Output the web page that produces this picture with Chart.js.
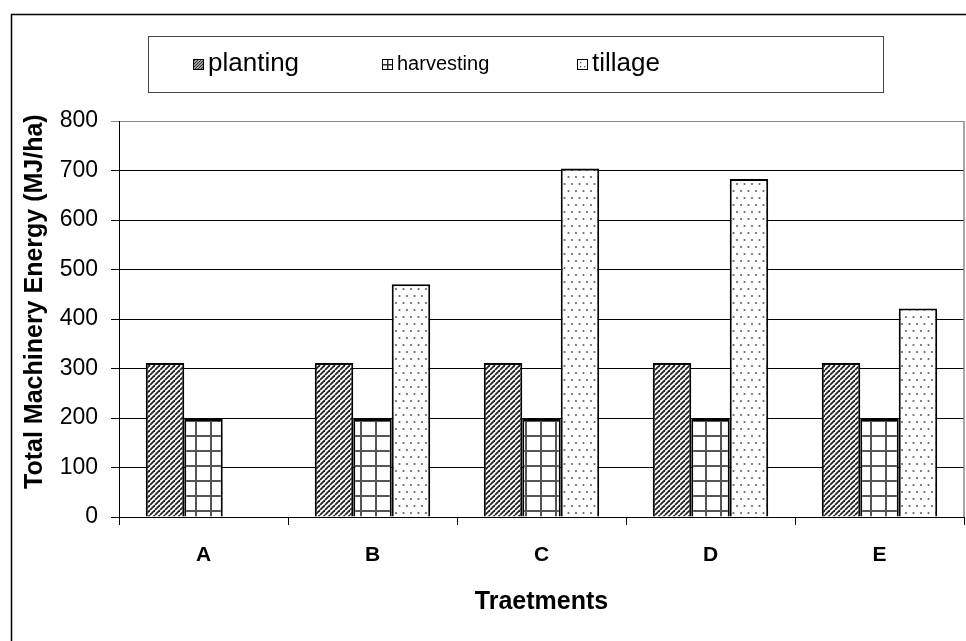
<!DOCTYPE html>
<html>
<head>
<meta charset="utf-8">
<script src="https://cdn.jsdelivr.net/npm/chart.js@4.4.1/dist/chart.umd.min.js"></script>
<style>
  html, body { margin: 0; padding: 0; background: #fff; }
  #wrap { position: relative; width: 966px; height: 641px; }
</style>
</head>
<body>
<div id="wrap"><canvas id="energy"></canvas></div>
<script>
var treatments = ["A", "B", "C", "D", "E"];
var planting = [311, 311, 311, 311, 311];
var harvesting = [198, 198, 198, 198, 198];
var tillage = [null, 470, 704, 683, 421];
var yTicks = [0, 100, 200, 300, 400, 500, 600, 700, 800];

var FONT = "'Liberation Sans', Arial, sans-serif";

function makeTile(w, h, draw) {
    var c = document.createElement("canvas");
    c.width = w;
    c.height = h;
    var g = c.getContext("2d");
    g.fillStyle = "#fff";
    g.fillRect(0, 0, w, h);
    draw(g);
    return c;
}

// diagonal stripes
var stripeTile = makeTile(5, 5, function (g) {
    g.strokeStyle = "#222";
    g.lineWidth = 1.8;
    for (var k = -5; k <= 10; k += 5) {
        g.beginPath();
        g.moveTo(k, 5);
        g.lineTo(k + 5, 0);
        g.stroke();
    }
});

// square grid
var gridTile = makeTile(15, 15, function (g) {
    g.fillStyle = "#555";
    g.fillRect(0, 0, 15, 2);
    g.fillRect(0, 0, 2, 15);
});

// staggered dots
var dotTile = makeTile(15, 14, function (g) {
    g.fillStyle = "#666";
    [[2, 2], [9.5, 2], [6, 9], [13.5, 9]].forEach(function (p) {
        g.beginPath();
        g.arc(p[0], p[1], 1.1, 0, Math.PI * 2);
        g.fill();
    });
});

var canvas = document.getElementById("energy");
var ctx = canvas.getContext("2d");
var stripes = ctx.createPattern(stripeTile, "repeat");
var grid = ctx.createPattern(gridTile, "repeat");
var dots = ctx.createPattern(dotTile, "repeat");

// small legend swatches
function swatch(c, kind, x, y) {
    c.fillStyle = "#fff";
    c.fillRect(x, y, 11, 11);
    if (kind === "planting") {
        c.save();
        c.beginPath();
        c.rect(x, y, 11, 11);
        c.clip();
        c.strokeStyle = "#333";
        c.lineWidth = 1.3;
        for (var k = -11; k <= 22; k += 3) {
            c.beginPath();
            c.moveTo(x + k, y + 11);
            c.lineTo(x + k + 11, y);
            c.stroke();
        }
        c.restore();
    } else if (kind === "harvesting") {
        c.fillStyle = "#333";
        c.fillRect(x + 5, y, 1.5, 11);
        c.fillRect(x, y + 5, 11, 1.5);
    } else {
        c.fillStyle = "#555";
        c.fillRect(x + 3, y + 3, 1.3, 1.3);
        c.fillRect(x + 7, y + 7, 1.3, 1.3);
        c.fillRect(x + 3, y + 7, 1.3, 1.3);
    }
    c.strokeStyle = "#000";
    c.lineWidth = 1;
    c.strokeRect(x + 0.5, y + 0.5, 10, 10);
}

var frame = {
    id: "frame",
    beforeDraw: function (chart) {
        var c = chart.ctx;
        c.save();
        c.fillStyle = "#fff";
        c.fillRect(0, 0, chart.width, chart.height);
        c.restore();
    },
    afterDraw: function (chart) {
        var c = chart.ctx;
        var area = chart.chartArea;
        c.save();
        // outer border
        c.strokeStyle = "#000";
        c.lineWidth = 1.5;
        c.strokeRect(11.5, 14.5, 1000, 700);
        // plot area right edge
        c.strokeStyle = "#888";
        c.lineWidth = 1.5;
        c.beginPath();
        c.moveTo(area.right, area.top);
        c.lineTo(area.right, area.bottom);
        c.stroke();

        // legend
        c.strokeStyle = "#444";
        c.lineWidth = 1;
        c.strokeRect(148.5, 36.5, 735, 56);
        var items = [
            { label: "planting", x: 193, size: 26 },
            { label: "harvesting", x: 382, size: 20 },
            { label: "tillage", x: 577, size: 26 }
        ];
        c.textBaseline = "middle";
        c.textAlign = "left";
        items.forEach(function (it) {
            swatch(c, it.label, it.x, 59);
            c.fillStyle = "#000";
            c.font = it.size + "px " + FONT;
            c.fillText(it.label, it.x + 15, 64);
        });
        c.restore();
    }
};

new Chart(ctx, {
    type: "bar",
    data: {
        labels: treatments,
        datasets: [
            {
                label: "planting",
                data: planting,
                backgroundColor: stripes,
                borderColor: "#000",
                borderWidth: 2
            },
            {
                label: "harvesting",
                data: harvesting,
                backgroundColor: grid,
                borderColor: "#000",
                borderWidth: 2
            },
            {
                label: "tillage",
                data: tillage,
                backgroundColor: dots,
                borderColor: "#000",
                borderWidth: 2
            }
        ]
    },
    options: {
        responsive: true,
        maintainAspectRatio: false,
        animation: false,
        categoryPercentage: 0.683,
        barPercentage: 1,
        layout: {
            padding: { left: 0, right: 2, top: 121, bottom: 0 }
        },
        plugins: {
            legend: { display: false },
            tooltip: { enabled: false }
        },
        scales: {
            x: {
                afterFit: function (scale) {
                    scale.height = 124;
                },
                grid: {
                    drawOnChartArea: false,
                    drawTicks: true,
                    tickLength: 8,
                    color: "#000"
                },
                border: { color: "#000", width: 1 },
                ticks: {
                    color: "#000",
                    padding: 18,
                    font: { family: FONT, size: 21, weight: "bold" }
                },
                title: {
                    display: true,
                    text: "Traetments",
                    color: "#000",
                    padding: { top: 0, bottom: 24 },
                    font: { family: FONT, size: 25, weight: "bold" }
                }
            },
            y: {
                min: 0,
                max: 800,
                afterFit: function (scale) {
                    scale.width = 119;
                },
                afterBuildTicks: function (scale) {
                    scale.ticks = yTicks.map(function (v) { return { value: v }; });
                },
                grid: {
                    color: function (c) {
                        return c.tick && c.tick.value === 800 ? "#888" : "#000";
                    },
                    lineWidth: 1,
                    drawTicks: true,
                    tickLength: 8
                },
                border: { color: "#000", width: 1 },
                ticks: {
                    color: "#000",
                    padding: 13,
                    font: { family: FONT, size: 23 }
                },
                title: {
                    display: true,
                    // leading spaces nudge the rotated title upward like the original
                    text: "\u00a0\u00a0\u00a0\u00a0\u00a0Total Machinery Energy (MJ/ha)",
                    color: "#000",
                    padding: { top: 20, bottom: 0 },
                    font: { family: FONT, size: 25, weight: "bold" }
                }
            }
        }
    },
    plugins: [frame]
});
</script>
</body>
</html>
